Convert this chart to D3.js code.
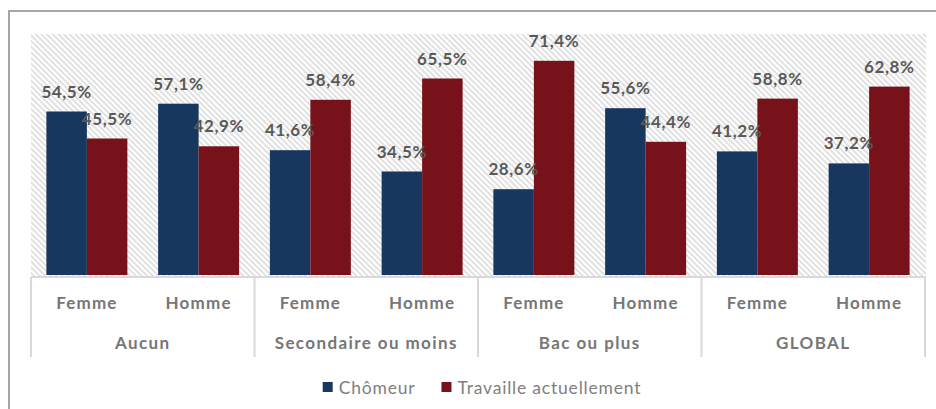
<!DOCTYPE html>
<html>
<head>
<meta charset="utf-8">
<script src="https://cdn.jsdelivr.net/npm/d3@7"></script>
<style>
  body { margin: 0; background: #fff; }
  svg { display: block; }
  text { font-family: Lato, "Open Sans", sans-serif; }
</style>
</head>
<body>
<svg width="936" height="409"></svg>
<script>
// data
var groups = ["Aucun", "Secondaire ou moins", "Bac ou plus", "GLOBAL"];
var sexes = ["Femme", "Homme"];
var seriesNames = ["Chômeur", "Travaille actuellement"];
var chomeur = [54.5, 57.1, 41.6, 34.5, 28.6, 55.6, 41.2, 37.2];
var travaille = [45.5, 42.9, 58.4, 65.5, 71.4, 44.4, 58.8, 62.8];
var colors = ["#17375e", "#77111a"];

var rows = chomeur.map(function(v, i) {
  return {
    key: groups[Math.floor(i / 2)] + "|" + sexes[i % 2],
    values: [v, travaille[i]]
  };
});

var svg = d3.select("svg");

// frame
svg.append("rect")
  .attr("x", 9).attr("y", 11)
  .attr("width", 960).attr("height", 420)
  .attr("fill", "none")
  .attr("stroke", "#a6a6a6")
  .attr("stroke-width", 2);

var xGroup = d3.scaleBand().domain(groups).range([31, 925]);
var xSlot = d3.scaleBand().domain(rows.map(function(d) { return d.key; })).range([31, 925]);
var xSeries = d3.scaleBand().domain(seriesNames).range([0, xSlot.bandwidth()])
  .paddingInner(0).paddingOuter(0.38);
var yScale = d3.scaleLinear().domain([0, 80]).range([275, 35]);

// hatched plot area
var defs = svg.append("defs");
var pat = defs.append("pattern")
  .attr("id", "hatch")
  .attr("width", 4).attr("height", 4)
  .attr("patternUnits", "userSpaceOnUse")
  .attr("patternTransform", "rotate(-45)");
pat.append("rect").attr("width", 4).attr("height", 4).attr("fill", "#fff");
pat.append("line").attr("x1", 1).attr("y1", 0).attr("x2", 1).attr("y2", 4)
  .attr("stroke", "#dcdcdc").attr("stroke-width", 1.7);

svg.append("rect")
  .attr("x", 31).attr("y", 34)
  .attr("width", 895).attr("height", 242)
  .attr("fill", "url(#hatch)");

// bars
var slot = svg.selectAll(".slot")
  .data(rows)
  .enter().append("g")
  .attr("class", "slot")
  .attr("transform", function(d) { return "translate(" + xSlot(d.key) + ",0)"; });

slot.selectAll("rect")
  .data(function(d) { return d.values; })
  .enter().append("rect")
  .attr("x", function(d, i) { return xSeries(seriesNames[i]); })
  .attr("y", function(d) { return yScale(d); })
  .attr("width", xSeries.bandwidth())
  .attr("height", function(d) { return yScale(0) - yScale(d); })
  .attr("fill", function(d, i) { return colors[i]; });

var fmt = d3.format(".1f");
slot.selectAll("text")
  .data(function(d) { return d.values; })
  .enter().append("text")
  .attr("x", function(d, i) { return xSeries(seriesNames[i]) + xSeries.bandwidth() / 2; })
  .attr("y", function(d) { return yScale(d) - 14; })
  .attr("text-anchor", "middle")
  .attr("fill", "#595959")
  .attr("font-size", "17px")
  .attr("font-weight", "bold")
  .attr("letter-spacing", "0.6px")
  .text(function(d) { return fmt(d).replace(".", ",") + "%"; });

// category axis
var axisColor = "#d9d9d9";
svg.append("line")
  .attr("x1", 31).attr("x2", 926)
  .attr("y1", 277).attr("y2", 277)
  .attr("stroke", axisColor).attr("stroke-width", 2);

var seps = groups.map(function(g) { return xGroup(g); }).concat([xGroup.range()[1]]);
svg.selectAll(".sep")
  .data(seps)
  .enter().append("line")
  .attr("class", "sep")
  .attr("x1", function(d) { return d; }).attr("x2", function(d) { return d; })
  .attr("y1", 277).attr("y2", 357)
  .attr("stroke", axisColor).attr("stroke-width", 2);

var subAxis = svg.append("g")
  .attr("transform", "translate(0,277)")
  .call(d3.axisBottom(xSlot).tickSize(0).tickPadding(0)
    .tickFormat(function(k) { return k.split("|")[1]; }));
subAxis.select(".domain").remove();
subAxis.selectAll("text")
  .attr("y", 32).attr("dy", null)
  .attr("fill", "#767676")
  .attr("font-size", "17px")
  .attr("font-weight", "bold")
  .attr("letter-spacing", "1.2px")
  .style("font-family", "Lato, sans-serif");

var groupAxis = svg.append("g")
  .attr("transform", "translate(0,277)")
  .call(d3.axisBottom(xGroup).tickSize(0).tickPadding(0));
groupAxis.select(".domain").remove();
groupAxis.selectAll("text")
  .attr("y", 72).attr("dy", null)
  .attr("fill", "#767676")
  .attr("font-size", "17px")
  .attr("font-weight", "bold")
  .attr("letter-spacing", "1.4px")
  .style("font-family", "Lato, sans-serif");

// legend
var legend = svg.append("g").attr("transform", "translate(0,387)");
var lx = 0;
var items = legend.selectAll(".item")
  .data(seriesNames)
  .enter().append("g")
  .attr("class", "item");
items.append("rect")
  .attr("y", -5).attr("width", 10).attr("height", 10)
  .attr("fill", function(d, i) { return colors[i]; });
items.append("text")
  .attr("x", 16).attr("y", 6.5)
  .attr("fill", "#7f7f7f")
  .attr("font-size", "17.5px")
  .attr("letter-spacing", "0.8px")
  .text(function(d) { return d; });
items.each(function() {
  d3.select(this).attr("transform", "translate(" + lx + ",0)");
  lx += this.getBBox().width + 26;
});
var legendWidth = lx - 26;
legend.attr("transform", "translate(" + (482 - legendWidth / 2) + ",387)");
</script>
</body>
</html>
